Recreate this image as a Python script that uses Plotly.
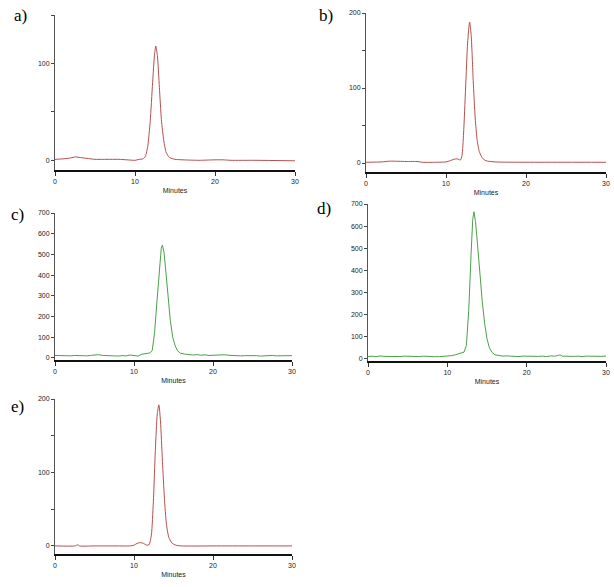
import plotly.graph_objects as go

# chromatogram traces (time in minutes, detector signal)
a_time = [0, 1, 2, 2.5, 3, 4, 5, 6, 7, 8, 9, 10, 10.5, 11, 11.3, 11.6, 11.9, 12.2, 12.45, 12.6, 12.8, 13.05, 13.3, 13.6, 13.9, 14.3, 15, 16, 18, 20, 21, 22, 25, 30]
a_signal = [1, 1.5, 2.5, 3.5, 3, 2, 1, 1, 1, 1, 0.5, 0, 1, 1.5, 4, 15, 40, 80, 110, 118, 108, 75, 42, 20, 8, 3, 1, 0.5, 0, 0.5, 0.5, 0, 0, -0.5]

b_time = [0, 2, 3, 5, 6.5, 7, 9, 10, 10.5, 11, 11.4, 11.8, 12.0, 12.2, 12.45, 12.7, 12.95, 13.15, 13.4, 13.65, 13.9, 14.2, 14.6, 15, 16, 20, 25, 30]
b_signal = [1, 1.5, 2.5, 2, 2, 1, 1, 1.5, 3, 5, 5.5, 4, 10, 40, 100, 160, 188, 170, 110, 60, 30, 14, 6, 3, 1.5, 1, 1, 1]

c_time = [0, 0.5, 1, 1.5, 2, 2.5, 3, 3.5, 4, 4.5, 5, 5.5, 6, 6.5, 7, 7.5, 8, 8.5, 9, 9.5, 10, 10.5, 11, 11.5, 12, 12.3, 12.6, 12.9, 13.2, 13.45, 13.6, 13.8, 14.0, 14.3, 14.6, 14.9, 15.2, 15.5, 15.9, 16.5, 17, 17.5, 18, 18.5, 19, 19.5, 20, 20.5, 21, 21.5, 22, 22.5, 23, 23.5, 24, 24.5, 25, 25.5, 26, 26.5, 27, 27.5, 28, 28.5, 29, 29.5, 30]
c_signal = [12, 11, 13, 12, 10, 12, 11, 13, 10, 12, 14, 16, 12, 11, 10, 12, 9, 11, 10, 14, 12, 9, 18, 22, 24, 35, 120, 270, 440, 530, 545, 510, 430, 300, 180, 100, 60, 35, 22, 18, 15, 14, 16, 13, 15, 12, 13, 14, 12, 15, 13, 11, 12, 10, 11, 12, 10, 11, 9, 11, 10, 12, 10, 11, 12, 10, 11]

d_time = [0, 0.5, 1, 1.5, 2, 2.5, 3, 3.5, 4, 4.5, 5, 5.5, 6, 6.5, 7, 7.5, 8, 8.5, 9, 9.5, 10, 10.5, 11, 11.5, 11.8, 12.1, 12.4, 12.7, 13.0, 13.2, 13.35, 13.55, 13.8, 14.1, 14.4, 14.7, 15.0, 15.3, 15.6, 16.0, 16.5, 17, 17.5, 18, 18.5, 19, 19.5, 20, 20.5, 21, 21.5, 22, 22.5, 23, 23.5, 24, 24.2, 24.5, 25, 25.5, 26, 26.5, 27, 27.5, 28, 28.5, 29, 29.5, 30]
d_signal = [10, 12, 9, 13, 11, 10, 12, 11, 10, 12, 11, 9, 11, 10, 12, 10, 11, 9, 10, 11, 12, 14, 18, 25, 28, 30, 60, 220, 480, 630, 665, 620, 520, 380, 260, 160, 90, 50, 30, 18, 14, 12, 13, 11, 12, 10, 12, 11, 13, 12, 11, 12, 10, 13, 12, 15, 18, 12, 11, 13, 11, 12, 10, 12, 11, 13, 12, 11, 13]

e_time = [0, 2.5, 2.9, 3.1, 5, 8, 9.5, 10, 10.4, 10.8, 11.2, 11.6, 11.9, 12.2, 12.45, 12.7, 12.95, 13.15, 13.35, 13.6, 13.85, 14.1, 14.4, 14.8, 15.3, 16, 20, 25, 30]
e_signal = [0, 0, 1.5, 0, 0, 0, 0, 1, 3.5, 4.5, 3.5, 1, 1.5, 15, 60, 130, 180, 192, 170, 115, 65, 30, 12, 4, 1, 0, 0, 0, 0]

RED = "#b5504e"
GREEN = "#4c9f4c"
W, H = 614, 587

# panel boxes in pixels: left, right, top, bottom; then y range, major / minor tick step, label spot
panels = [
    ("a)", a_time, a_signal, RED, "spline", (55, 295, 15, 170), [-10, 150], 100, 50, (20, 15)),
    ("b)", b_time, b_signal, RED, "spline", (366, 606, 13, 172), [-12, 200], 100, 50, (326, 15)),
    ("c)", c_time, c_signal, GREEN, "linear", (55, 292, 213, 360), [-10, 700], 100, None, (17, 215)),
    ("d)", d_time, d_signal, GREEN, "linear", (368, 606, 204, 361), [-10, 700], 100, None, (324, 208)),
    ("e)", e_time, e_signal, RED, "spline", (55, 292, 399, 554), [-11, 200], 100, 50, (17, 406)),
]

fig = go.Figure()
tickfont = dict(family="Arial", size=7, color="#222222")

for i, (lab, t, s, col, shape, box, yr, dt, mdt, lpos) in enumerate(panels):
    n = "" if i == 0 else str(i + 1)
    left, right, top, bottom = box
    fig.add_trace(go.Scatter(x=t, y=s, mode="lines", xaxis="x" + n, yaxis="y" + n,
                             line=dict(color=col, width=1, shape=shape, smoothing=0.6),
                             showlegend=False))
    fig.layout["xaxis" + n] = dict(
        domain=[left / W, right / W], anchor="y" + n, range=[0, 30], automargin=False,
        tickvals=[0, 10, 20, 30], ticks="outside", ticklen=4, tickcolor="#333",
        showline=True, linecolor="#111", linewidth=2, showgrid=False, zeroline=False,
        tickfont=tickfont, title=dict(text="Minutes", font=tickfont, standoff=4))
    ydict = dict(
        domain=[1 - bottom / H, 1 - top / H], anchor="x" + n, range=yr, automargin=False,
        dtick=dt, tick0=0, ticks="outside", ticklen=3, tickcolor="#444",
        showline=True, linecolor="#555", linewidth=1, showgrid=False, zeroline=False,
        tickfont=tickfont)
    if mdt:
        ydict["minor"] = dict(dtick=mdt, tick0=0, ticks="outside", ticklen=3, tickcolor="#444")
    fig.layout["yaxis" + n] = ydict
    fig.add_annotation(text=lab, x=lpos[0] / W, y=1 - lpos[1] / H, xref="paper", yref="paper",
                       showarrow=False, xanchor="center", yanchor="middle",
                       font=dict(family="Liberation Serif", size=17, color="#000"))

fig.update_layout(template="none", width=W, height=H, margin=dict(l=0, r=0, t=0, b=0),
                  plot_bgcolor="white", paper_bgcolor="white")
# drop the browser's default 8px body margin so the figure fills the window
fig.write_html("out.html", config={"displayModeBar": False},
               post_script="document.body.style.margin='0';document.body.style.overflow='hidden';")
